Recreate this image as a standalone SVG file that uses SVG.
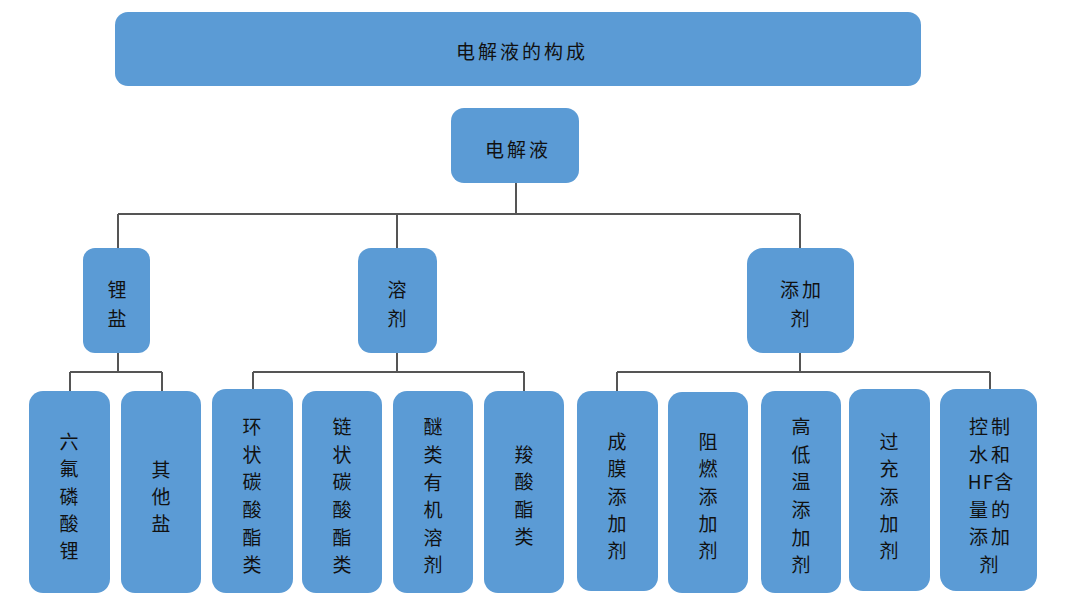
<svg xmlns="http://www.w3.org/2000/svg" width="1080" height="612" viewBox="0 0 1080 612">
<style>
.box{fill:#5b9bd5;}
.t{font-family:"Noto Sans CJK SC","Noto Sans",sans-serif;font-size:19px;fill:#111111;text-anchor:middle;dominant-baseline:central;}
.h{letter-spacing:3px;}
.c{fill:none;stroke:#555555;stroke-width:2;}
</style>
<rect width="1080" height="612" fill="#ffffff"/>
<g id="connectors">
<path class="c" d="M516,183 V214 M118,214 H800 M118,214 V248 M397,214 V248 M800,214 V248"/>
<path class="c" d="M118,353 V372 M70,372 H162 M70,372 V391 M162,372 V391"/>
<path class="c" d="M397,353 V372 M253,372 H524 M253,372 V389 M524,372 V391"/>
<path class="c" d="M800,353 V372 M617,372 H990 M617,372 V391 M990,372 V389"/>
</g>
<g id="title"><rect class="box" x="115" y="12" width="806" height="74" rx="13"/><text class="t h" x="522" y="50" font-size="20">电解液的构成</text></g>
<g id="root"><rect class="box" x="451" y="108" width="128" height="75" rx="13"/><text class="t h" x="518" y="148" font-size="20">电解液</text></g>
<g id="lithium-salt"><rect class="box" x="83" y="248" width="67" height="105" rx="12"/><text class="t"><tspan x="117" y="288">锂</tspan><tspan x="117" y="317">盐</tspan></text></g>
<g id="solvent"><rect class="box" x="358" y="248" width="79" height="105" rx="13"/><text class="t"><tspan x="397" y="288">溶</tspan><tspan x="397" y="317">剂</tspan></text></g>
<g id="additive"><rect class="box" x="747" y="248" width="107" height="105" rx="16"/><text class="t h"><tspan x="802" y="288">添加</tspan><tspan x="800" y="317" letter-spacing="0">剂</tspan></text></g>
<g id="lipf6"><rect class="box" x="29" y="391" width="81" height="202" rx="14"/><text class="t"><tspan x="69" y="440">六</tspan><tspan x="69" y="467">氟</tspan><tspan x="69" y="495">磷</tspan><tspan x="69" y="522">酸</tspan><tspan x="69" y="549">锂</tspan></text></g>
<g id="other-salt"><rect class="box" x="121" y="391" width="80" height="202" rx="14"/><text class="t"><tspan x="161" y="468">其</tspan><tspan x="161" y="495">他</tspan><tspan x="161" y="522">盐</tspan></text></g>
<g id="cyclic"><rect class="box" x="212" y="389" width="81" height="204" rx="14"/><text class="t"><tspan x="252" y="425">环</tspan><tspan x="252" y="453">状</tspan><tspan x="252" y="480">碳</tspan><tspan x="252" y="508">酸</tspan><tspan x="252" y="536">酯</tspan><tspan x="252" y="563">类</tspan></text></g>
<g id="chain"><rect class="box" x="302" y="391" width="80" height="202" rx="14"/><text class="t"><tspan x="342" y="425">链</tspan><tspan x="342" y="453">状</tspan><tspan x="342" y="480">碳</tspan><tspan x="342" y="508">酸</tspan><tspan x="342" y="536">酯</tspan><tspan x="342" y="563">类</tspan></text></g>
<g id="ether"><rect class="box" x="393" y="391" width="80" height="202" rx="14"/><text class="t"><tspan x="433" y="425">醚</tspan><tspan x="433" y="453">类</tspan><tspan x="433" y="481">有</tspan><tspan x="433" y="508">机</tspan><tspan x="433" y="536">溶</tspan><tspan x="433" y="563">剂</tspan></text></g>
<g id="carboxylate"><rect class="box" x="484" y="391" width="80" height="202" rx="14"/><text class="t"><tspan x="524" y="453">羧</tspan><tspan x="524" y="480">酸</tspan><tspan x="524" y="508">酯</tspan><tspan x="524" y="535">类</tspan></text></g>
<g id="film"><rect class="box" x="577" y="391" width="81" height="200" rx="14"/><text class="t"><tspan x="617" y="440">成</tspan><tspan x="617" y="467">膜</tspan><tspan x="617" y="495">添</tspan><tspan x="617" y="522">加</tspan><tspan x="617" y="549">剂</tspan></text></g>
<g id="flame"><rect class="box" x="668" y="392" width="80" height="201" rx="14"/><text class="t"><tspan x="708" y="440">阻</tspan><tspan x="708" y="467">燃</tspan><tspan x="708" y="495">添</tspan><tspan x="708" y="522">加</tspan><tspan x="708" y="549">剂</tspan></text></g>
<g id="temperature"><rect class="box" x="761" y="391" width="80" height="202" rx="14"/><text class="t"><tspan x="801" y="425">高</tspan><tspan x="801" y="453">低</tspan><tspan x="801" y="480">温</tspan><tspan x="801" y="508">添</tspan><tspan x="801" y="536">加</tspan><tspan x="801" y="563">剂</tspan></text></g>
<g id="overcharge"><rect class="box" x="849" y="389" width="81" height="202" rx="14"/><text class="t"><tspan x="889" y="440">过</tspan><tspan x="889" y="467">充</tspan><tspan x="889" y="495">添</tspan><tspan x="889" y="522">加</tspan><tspan x="889" y="549">剂</tspan></text></g>
<g id="hf-control"><rect class="box" x="940" y="389" width="97" height="202" rx="16"/><text class="t h"><tspan x="991" y="425">控制</tspan><tspan x="991" y="453">水和</tspan><tspan x="991" y="480" letter-spacing="1">HF含</tspan><tspan x="991" y="508">量的</tspan><tspan x="991" y="535">添加</tspan><tspan x="989" y="563" letter-spacing="0">剂</tspan></text></g>
</svg>
